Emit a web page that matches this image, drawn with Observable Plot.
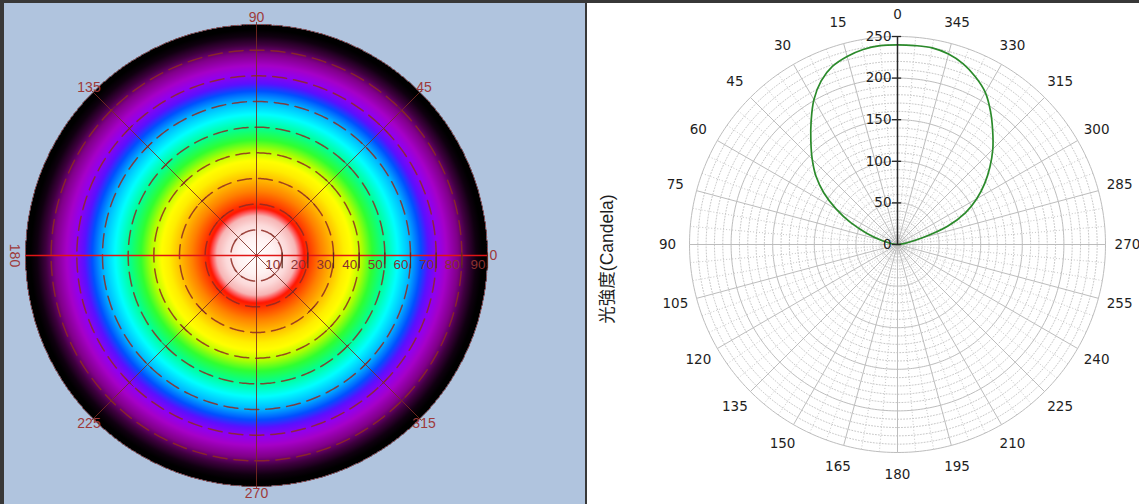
<!DOCTYPE html>
<html><head><meta charset="utf-8">
<script src="https://cdn.jsdelivr.net/npm/d3@7"></script>
<script src="https://cdn.jsdelivr.net/npm/@observablehq/plot@0.6"></script>
<style>
body{margin:0;background:#383838;width:1139px;height:504px;overflow:hidden;position:relative}
#left{position:absolute;left:4px;top:3px;width:581px;height:501px;background:#b0c4de}
#right{position:absolute;left:587px;top:3px;width:552px;height:501px;background:#fff}
svg{display:block}
</style></head><body>
<div id="left"></div><div id="right"></div>
<script>
// ---- data: luminous intensity (cd) vs angle (deg, counter-clockwise from 0 at top)
const angle = [270,275,280,285,290,295,300,305,310,315,320,325,330,335,340,345,350,355,
               0,5,10,15,20,25,30,35,40,45,50,55,60,65,70,75,80,85,90];
const intensity = [0,4,12,31,64,90,110,128,145,162,178,195,211,222,231,237,240,240,
                   240,240,238,234,228,217,201,181,162,145,128,108,85,62,39,21,9,3,0];
const radialTicks = [0,50,100,150,200,250];
const angleTicks = d3.range(0,360,15);
// ---- false-colour map (left): zenith angle rings and colour stops
const zenithRings = [10,20,30,40,50,60,70,80];
const zenithLabels = [10,20,30,40,50,60,70,80,90];
const azimuthLabels = [0,45,90,135,180,225,270,315];
const colorStops = [0,7,12,15.5,17.3,18.5,21,25,30,34,37,41,45,50,55,60,64,67,70.5,74,78.5,82,85.5,88,90];
const colorRange = ["#ffffff","#fff2f2","#fcdada","#f7b4b4","#ff5050","#ff1500","#ff4000","#ff8000",
  "#ffbf00","#ffee00","#ffff00","#b0ff00","#30ff30","#00ff9a","#00ffff","#00b4ff","#0050ff",
  "#5a10ff","#9000f0","#a600c8","#800088","#400040","#100010","#000000","#000000"];

const deg = Math.PI/180;
const ringPts = (rs, step) => rs.flatMap(r => d3.range(0, 360 + step, step).map(t => ({r, t})));

// ================= LEFT: false colour polar map =================
const Lx = d => d.r*Math.cos(d.t*deg), Ly = d => d.r*Math.sin(d.t*deg);
const diag = [45,135,225,315];
const diagTicks = diag.flatMap(t => zenithRings.map(r => ({r, t})));
const red = "#8e2a22";
const lfont = "Liberation Sans, Arial, sans-serif";
const left = Plot.plot({
  width: 581, height: 501, margin: 0,
  style: {background: "transparent"},
  x: {domain: [-90, 90], range: [21, 483], axis: null},
  y: {domain: [-90, 90], range: [483, 21], axis: null},
  color: {type: "linear", domain: colorStops, range: colorRange, interpolate: "rgb"},
  marks: [
    Plot.raster({x1: -90, x2: 90, y1: -90, y2: 90, width: 462, height: 462,
      fill: (x, y) => { const r = Math.hypot(x, y); return r <= 90 ? r : NaN; }}),
    Plot.line(ringPts(zenithRings, 1), {x: Lx, y: Ly, z: "r", stroke: red, strokeWidth: 1.5,
      strokeOpacity: 0.85, strokeDasharray: "14,7"}),
    Plot.line(ringPts([90], 1), {x: Lx, y: Ly, stroke: "#c03030", strokeWidth: 1, strokeOpacity: 0.6, strokeDasharray: "1,2"}),
    Plot.link([45,90,135,225,270,315], {x1: 0, y1: 0, x2: t => 91*Math.cos(t*deg), y2: t => 91*Math.sin(t*deg),
      stroke: "#7a2a22", strokeWidth: 1, strokeOpacity: 0.85}),
    Plot.link(diagTicks, {
      x1: d => d.r*Math.cos(d.t*deg) - 2.2*Math.sin(d.t*deg), y1: d => d.r*Math.sin(d.t*deg) + 2.2*Math.cos(d.t*deg),
      x2: d => d.r*Math.cos(d.t*deg) + 2.2*Math.sin(d.t*deg), y2: d => d.r*Math.sin(d.t*deg) - 2.2*Math.cos(d.t*deg),
      stroke: "#7a2a22", strokeWidth: 1, strokeOpacity: 0.85}),
    Plot.link([0,180], {x1: 0, y1: 0, x2: t => 90*Math.cos(t*deg), y2: 0, stroke: "#e01515", strokeWidth: 1.6}),
    Plot.link(zenithLabels, {x1: d => d, x2: d => d, y1: 1.2, y2: -5, stroke: "#5a2a20", strokeWidth: 1.2}),
    Plot.text(zenithLabels, {x: d => d, y: 0, text: d => String(d), textAnchor: "end", dx: -2, dy: 9,
      fill: "#8a3030", fontSize: 13.5, fontFamily: lfont}),
    Plot.text(azimuthLabels.filter(a => a !== 180), {x: a => 92.3*Math.cos(a*deg), y: a => 92.6*Math.sin(a*deg),
      text: a => String(a), fill: "#9e3a3a", fontSize: 14, fontFamily: lfont}),
    Plot.text(azimuthLabels.filter(a => a === 180), {x: a => 94.3*Math.cos(a*deg), y: 0, rotate: 90,
      text: a => String(a), fill: "#9e3a3a", fontSize: 14, fontFamily: lfont})
  ]
});
document.getElementById("left").appendChild(left);

// ================= RIGHT: polar intensity curve =================
const Rx = d => -d.r*Math.sin(d.t*deg), Ry = d => d.r*Math.cos(d.t*deg);
const minorRings = d3.range(10, 250, 10).filter(r => r % 50 !== 0);
const majorRings = [50,100,150,200,250];
const minorSpokes = d3.range(0, 360, 5).filter(a => a % 15 !== 0);
const font = "DejaVu Sans, Verdana, sans-serif";
const right = Plot.plot({
  width: 552, height: 501, margin: 0,
  style: {background: "transparent"},
  x: {domain: [-250, 250], range: [102, 518], axis: null},
  y: {domain: [-250, 250], range: [449, 33], axis: null},
  marks: [
    Plot.line(ringPts(minorRings, 1), {x: Rx, y: Ry, z: "r", stroke: "#c8c8c8", strokeWidth: 1, strokeDasharray: "1,2"}),
    Plot.link(minorSpokes, {x1: 0, y1: 0, x2: a => -250*Math.sin(a*deg), y2: a => 250*Math.cos(a*deg),
      stroke: "#c8c8c8", strokeWidth: 1, strokeDasharray: "1,2"}),
    Plot.line(ringPts(majorRings, 1), {x: Rx, y: Ry, z: "r", stroke: "#bdbdbd", strokeWidth: 1}),
    Plot.link(angleTicks, {x1: 0, y1: 0, x2: a => -250*Math.sin(a*deg), y2: a => 250*Math.cos(a*deg),
      stroke: "#bdbdbd", strokeWidth: 1}),
    Plot.line(d3.range(angle.length), {x: i => -intensity[i]*Math.sin(angle[i]*deg),
      y: i => intensity[i]*Math.cos(angle[i]*deg), stroke: "#2b8a2b", strokeWidth: 1.7, curve: "catmull-rom"}),
    Plot.ruleX([0], {y1: 0, y2: 250, stroke: "#262626", strokeWidth: 1.5}),
    Plot.ruleY(radialTicks, {y: d => d, x1: -6, x2: 5, stroke: "#262626", strokeWidth: 1.3}),
    Plot.text(radialTicks, {x: 0, y: d => d, text: d => String(d), textAnchor: "end", dx: -6,
      fill: "#1e1e1e", fontSize: 13.5, fontFamily: font}),
    Plot.text(angleTicks, {x: a => -276.4*Math.sin(a*deg), y: a => 276.4*Math.cos(a*deg), text: a => String(a),
      fill: "#1e1e1e", fontSize: 13.5, fontFamily: font}),
    Plot.text(["光強度(Candela)"], {frameAnchor: "left", textAnchor: "middle", dx: 20, dy: 5, rotate: -90, text: d => d,
      fill: "#1e1e1e", fontSize: 17.5, fontFamily: "Liberation Sans, Arial, 'Noto Sans CJK TC', sans-serif"})
  ]
});
document.getElementById("right").appendChild(right);
</script>
</body></html>
